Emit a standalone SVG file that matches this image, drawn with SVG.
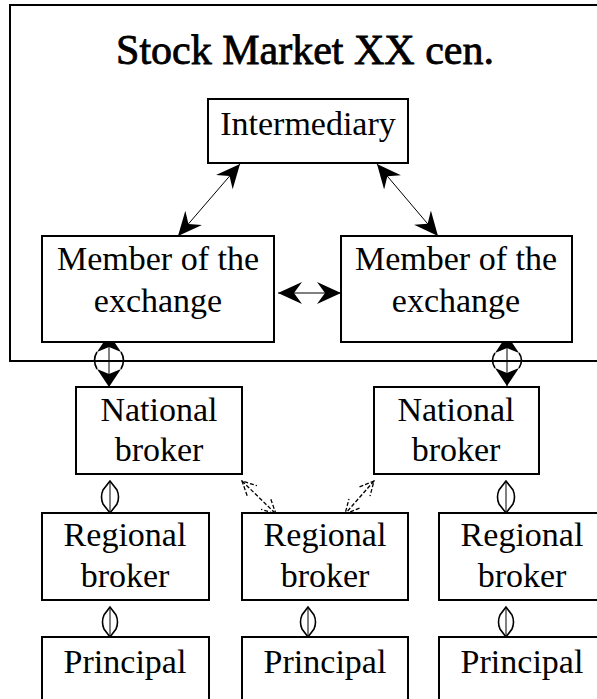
<svg xmlns="http://www.w3.org/2000/svg" width="597" height="699" viewBox="0 0 597 699">
  <style>
    .box { fill: #fff; stroke: #000; stroke-width: 2; }
    .frame { fill: none; stroke: #000; stroke-width: 2; }
    .lbl { font-family: "Liberation Serif", "Times New Roman", serif; font-size: 34px; fill: #000; text-anchor: middle; }
    .title { font-family: "Liberation Serif", "Times New Roman", serif; font-size: 42px; fill: #000; stroke: #000; stroke-width: 0.8; text-anchor: middle; }
    .thin { stroke: #000; stroke-width: 1; fill: none; }
    .dash { stroke: #000; stroke-width: 1.3; fill: none; stroke-dasharray: 4 2; }
    .solid { fill: #000; stroke: none; }
    .hollow { fill: none; stroke: #000; stroke-width: 1.6; }
  </style>
  <defs>
    <!-- filled barbed arrowhead -->
    <marker id="head" viewBox="0 0 24 24" markerWidth="24" markerHeight="24" markerUnits="userSpaceOnUse" refX="24" refY="12" orient="auto-start-reverse">
      <path d="M24,12 L0,1 L8,12 L0,23 Z" fill="#000"/>
    </marker>
    <!-- open dashed arrowhead -->
    <marker id="open" viewBox="0 0 16 16" markerWidth="16" markerHeight="16" markerUnits="userSpaceOnUse" refX="15" refY="8" orient="auto-start-reverse">
      <path d="M1,1 L15,8 L1,15" fill="none" stroke="#000" stroke-width="1.3" stroke-dasharray="4 2"/>
    </marker>
  </defs>

  <rect width="597" height="699" fill="#fff"/>

  <!-- exchange frame (open to the right) -->
  <rect class="frame" x="10" y="5" width="600" height="356"/>
  <text class="title" x="305" y="64">Stock Market XX cen.</text>

  <g id="connectors">
    <!-- intermediary to members -->
    <line class="thin" x1="240" y1="164" x2="178" y2="236" marker-start="url(#head)" marker-end="url(#head)"/>
    <line class="thin" x1="377" y1="164" x2="438" y2="236" marker-start="url(#head)" marker-end="url(#head)"/>
    <!-- member to member -->
    <line class="thin" x1="278" y1="293" x2="341" y2="293" marker-start="url(#head)" marker-end="url(#head)"/>

    <!-- members to national brokers -->
    <g>
      <line class="thin" x1="109" y1="334" x2="109" y2="387" stroke-width="1.5"/>
      <path class="solid" d="M109,334 L121,352 L109,347 L97,352 Z"/>
      <path class="solid" d="M109,387 L121,369 L109,374 L97,369 Z"/>
      <path class="hollow" d="M97,352 Q92,360 97,369 M121,352 Q126,360 121,369"/>
    </g>
    <g>
      <line class="thin" x1="507" y1="335" x2="507" y2="386" stroke-width="1.5"/>
      <path class="solid" d="M507,335 L519,353 L507,348 L495,353 Z"/>
      <path class="solid" d="M507,386 L519,368 L507,373 L495,368 Z"/>
      <path class="hollow" d="M495,353 Q490,360 495,368 M519,353 Q524,360 519,368"/>
    </g>

    <!-- national to regional -->
    <g>
      <line class="thin" x1="110" y1="481" x2="110" y2="513"/>
      <path class="hollow" d="M110,481 L103,490 Q100,497 103,504 L110,513 L117,504 Q120,497 117,490 Z"/>
    </g>
    <g>
      <line class="thin" x1="506" y1="481" x2="506" y2="513"/>
      <path class="hollow" d="M506,481 L499,490 Q496,497 499,504 L506,513 L513,504 Q516,497 513,490 Z"/>
    </g>
    <line class="dash" x1="242" y1="481" x2="276" y2="514" marker-start="url(#open)" marker-end="url(#open)"/>
    <line class="dash" x1="374" y1="481" x2="345" y2="514" marker-start="url(#open)" marker-end="url(#open)"/>

    <!-- regional to principal -->
    <g>
      <line class="thin" x1="110" y1="607" x2="110" y2="637"/>
      <path class="hollow" d="M110,607 L104,615 Q101,622 104,629 L110,637 L116,629 Q119,622 116,615 Z"/>
    </g>
    <g>
      <line class="thin" x1="308" y1="607" x2="308" y2="637"/>
      <path class="hollow" d="M308,607 L302,615 Q299,622 302,629 L308,637 L314,629 Q317,622 314,615 Z"/>
    </g>
    <g>
      <line class="thin" x1="506" y1="607" x2="506" y2="637"/>
      <path class="hollow" d="M506,607 L500,615 Q497,622 500,629 L506,637 L512,629 Q515,622 512,615 Z"/>
    </g>
  </g>

  <g id="intermediary">
    <rect class="box" x="208" y="99" width="200" height="64"/>
    <text class="lbl" x="308" y="135">Intermediary</text>
  </g>

  <g id="member-left">
    <rect class="box" x="42" y="236" width="232" height="106"/>
    <text class="lbl" x="158" y="270">Member of the</text>
    <text class="lbl" x="158" y="312">exchange</text>
  </g>
  <g id="member-right">
    <rect class="box" x="341" y="236" width="231" height="106"/>
    <text class="lbl" x="456" y="270">Member of the</text>
    <text class="lbl" x="456" y="312">exchange</text>
  </g>

  <g id="national-left">
    <rect class="box" x="76" y="387" width="166" height="87"/>
    <text class="lbl" x="159" y="421">National</text>
    <text class="lbl" x="159" y="461">broker</text>
  </g>
  <g id="national-right">
    <rect class="box" x="374" y="387" width="165" height="87"/>
    <text class="lbl" x="456" y="421">National</text>
    <text class="lbl" x="456" y="461">broker</text>
  </g>

  <g id="regional-left">
    <rect class="box" x="42" y="513" width="167" height="87"/>
    <text class="lbl" x="125" y="546">Regional</text>
    <text class="lbl" x="125" y="587">broker</text>
  </g>
  <g id="regional-middle">
    <rect class="box" x="242" y="513" width="166" height="87"/>
    <text class="lbl" x="325" y="546">Regional</text>
    <text class="lbl" x="325" y="587">broker</text>
  </g>
  <g id="regional-right">
    <rect class="box" x="439" y="513" width="166" height="87"/>
    <text class="lbl" x="522" y="546">Regional</text>
    <text class="lbl" x="522" y="587">broker</text>
  </g>

  <g id="principal-left">
    <rect class="box" x="42" y="637" width="167" height="80"/>
    <text class="lbl" x="125" y="673">Principal</text>
  </g>
  <g id="principal-middle">
    <rect class="box" x="242" y="637" width="166" height="80"/>
    <text class="lbl" x="325" y="673">Principal</text>
  </g>
  <g id="principal-right">
    <rect class="box" x="439" y="637" width="166" height="80"/>
    <text class="lbl" x="522" y="673">Principal</text>
  </g>
</svg>
